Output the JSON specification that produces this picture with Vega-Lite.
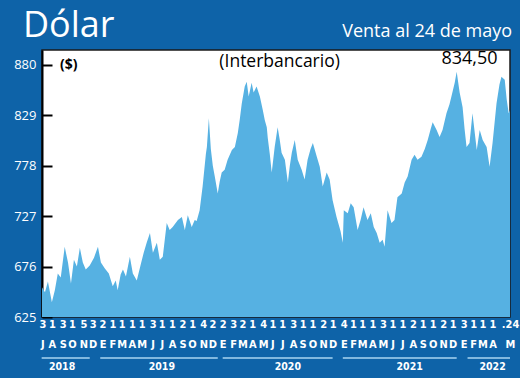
{
  "$schema": "https://vega.github.io/schema/vega-lite/v6.json",
  "width": 468,
  "height": 267,
  "autosize": {"type": "none"},
  "padding": {"left": 42, "top": 50, "right": 10, "bottom": 61},
  "background": "#0e63a8",
  "config": {"view": {"fill": "white", "stroke": "#1a1a1a", "strokeWidth": 1.5}, "axis": {"labelOverlap": false, "labelSeparation": 0}},
  "datasets": {
    "dolar": [
      {"fecha": "2018-07-02", "valor": 655}, {"fecha": "2018-07-11", "valor": 650}, {"fecha": "2018-07-20", "valor": 661},
      {"fecha": "2018-08-01", "valor": 640}, {"fecha": "2018-08-10", "valor": 652}, {"fecha": "2018-08-19", "valor": 669},
      {"fecha": "2018-08-28", "valor": 665}, {"fecha": "2018-09-09", "valor": 696}, {"fecha": "2018-09-19", "valor": 680},
      {"fecha": "2018-09-28", "valor": 659}, {"fecha": "2018-10-07", "valor": 683}, {"fecha": "2018-10-16", "valor": 676},
      {"fecha": "2018-10-25", "valor": 695}, {"fecha": "2018-11-03", "valor": 680}, {"fecha": "2018-11-12", "valor": 673},
      {"fecha": "2018-11-24", "valor": 677}, {"fecha": "2018-12-07", "valor": 685}, {"fecha": "2018-12-19", "valor": 696},
      {"fecha": "2018-12-28", "valor": 680}, {"fecha": "2019-01-09", "valor": 674}, {"fecha": "2019-01-21", "valor": 669},
      {"fecha": "2019-02-02", "valor": 656}, {"fecha": "2019-02-11", "valor": 662}, {"fecha": "2019-02-17", "valor": 652},
      {"fecha": "2019-02-26", "valor": 668}, {"fecha": "2019-03-05", "valor": 673}, {"fecha": "2019-03-14", "valor": 666},
      {"fecha": "2019-03-26", "valor": 686}, {"fecha": "2019-04-04", "valor": 669}, {"fecha": "2019-04-16", "valor": 662},
      {"fecha": "2019-04-28", "valor": 678}, {"fecha": "2019-05-07", "valor": 690}, {"fecha": "2019-05-16", "valor": 700},
      {"fecha": "2019-05-26", "valor": 710}, {"fecha": "2019-06-04", "valor": 690}, {"fecha": "2019-06-16", "valor": 700},
      {"fecha": "2019-06-25", "valor": 683}, {"fecha": "2019-07-04", "valor": 686}, {"fecha": "2019-07-16", "valor": 720},
      {"fecha": "2019-07-25", "valor": 713}, {"fecha": "2019-08-03", "valor": 716}, {"fecha": "2019-08-19", "valor": 723},
      {"fecha": "2019-08-31", "valor": 726}, {"fecha": "2019-09-09", "valor": 713}, {"fecha": "2019-09-18", "valor": 728},
      {"fecha": "2019-09-30", "valor": 716}, {"fecha": "2019-10-09", "valor": 723}, {"fecha": "2019-10-15", "valor": 722},
      {"fecha": "2019-10-24", "valor": 733}, {"fecha": "2019-11-02", "valor": 757}, {"fecha": "2019-11-12", "valor": 790},
      {"fecha": "2019-11-15", "valor": 797}, {"fecha": "2019-11-21", "valor": 826}, {"fecha": "2019-11-27", "valor": 795},
      {"fecha": "2019-12-03", "valor": 778}, {"fecha": "2019-12-09", "valor": 767}, {"fecha": "2019-12-18", "valor": 750},
      {"fecha": "2019-12-24", "valor": 762}, {"fecha": "2019-12-30", "valor": 771}, {"fecha": "2020-01-08", "valor": 774},
      {"fecha": "2020-01-17", "valor": 784}, {"fecha": "2020-01-30", "valor": 794}, {"fecha": "2020-02-08", "valor": 797},
      {"fecha": "2020-02-17", "valor": 811}, {"fecha": "2020-02-23", "valor": 825}, {"fecha": "2020-02-29", "valor": 841},
      {"fecha": "2020-03-09", "valor": 858}, {"fecha": "2020-03-15", "valor": 863}, {"fecha": "2020-03-21", "valor": 848},
      {"fecha": "2020-03-30", "valor": 862}, {"fecha": "2020-04-05", "valor": 852}, {"fecha": "2020-04-14", "valor": 858},
      {"fecha": "2020-04-24", "valor": 848}, {"fecha": "2020-05-03", "valor": 834}, {"fecha": "2020-05-09", "valor": 824},
      {"fecha": "2020-05-15", "valor": 817}, {"fecha": "2020-05-18", "valor": 806}, {"fecha": "2020-05-24", "valor": 790},
      {"fecha": "2020-05-30", "valor": 771}, {"fecha": "2020-06-08", "valor": 797}, {"fecha": "2020-06-17", "valor": 817},
      {"fecha": "2020-06-23", "valor": 805}, {"fecha": "2020-06-29", "valor": 791}, {"fecha": "2020-07-09", "valor": 784},
      {"fecha": "2020-07-18", "valor": 761}, {"fecha": "2020-07-24", "valor": 778}, {"fecha": "2020-07-30", "valor": 791},
      {"fecha": "2020-08-08", "valor": 804}, {"fecha": "2020-08-17", "valor": 784}, {"fecha": "2020-08-29", "valor": 774},
      {"fecha": "2020-09-07", "valor": 764}, {"fecha": "2020-09-16", "valor": 784}, {"fecha": "2020-09-25", "valor": 795},
      {"fecha": "2020-10-02", "valor": 801}, {"fecha": "2020-10-14", "valor": 787}, {"fecha": "2020-10-23", "valor": 777},
      {"fecha": "2020-11-01", "valor": 757}, {"fecha": "2020-11-13", "valor": 771}, {"fecha": "2020-11-22", "valor": 764},
      {"fecha": "2020-12-01", "valor": 743}, {"fecha": "2020-12-13", "valor": 726}, {"fecha": "2020-12-25", "valor": 712},
      {"fecha": "2021-01-01", "valor": 700}, {"fecha": "2021-01-04", "valor": 733}, {"fecha": "2021-01-16", "valor": 730},
      {"fecha": "2021-01-25", "valor": 740}, {"fecha": "2021-02-03", "valor": 736}, {"fecha": "2021-02-15", "valor": 713},
      {"fecha": "2021-02-24", "valor": 723}, {"fecha": "2021-03-05", "valor": 736}, {"fecha": "2021-03-17", "valor": 723},
      {"fecha": "2021-03-27", "valor": 730}, {"fecha": "2021-04-05", "valor": 716}, {"fecha": "2021-04-14", "valor": 710},
      {"fecha": "2021-04-23", "valor": 700}, {"fecha": "2021-05-02", "valor": 703}, {"fecha": "2021-05-08", "valor": 696},
      {"fecha": "2021-05-17", "valor": 733}, {"fecha": "2021-05-29", "valor": 720}, {"fecha": "2021-06-07", "valor": 723},
      {"fecha": "2021-06-16", "valor": 746}, {"fecha": "2021-06-29", "valor": 750}, {"fecha": "2021-07-08", "valor": 761},
      {"fecha": "2021-07-17", "valor": 767}, {"fecha": "2021-07-29", "valor": 784}, {"fecha": "2021-08-07", "valor": 789},
      {"fecha": "2021-08-16", "valor": 784}, {"fecha": "2021-08-28", "valor": 787}, {"fecha": "2021-09-07", "valor": 795},
      {"fecha": "2021-09-16", "valor": 804}, {"fecha": "2021-09-25", "valor": 815}, {"fecha": "2021-10-01", "valor": 822},
      {"fecha": "2021-10-13", "valor": 814}, {"fecha": "2021-10-22", "valor": 807}, {"fecha": "2021-10-31", "valor": 814},
      {"fecha": "2021-11-12", "valor": 831}, {"fecha": "2021-11-21", "valor": 840}, {"fecha": "2021-11-27", "valor": 848},
      {"fecha": "2021-12-07", "valor": 862}, {"fecha": "2021-12-13", "valor": 873}, {"fecha": "2021-12-22", "valor": 852},
      {"fecha": "2021-12-31", "valor": 837}, {"fecha": "2022-01-06", "valor": 815}, {"fecha": "2022-01-12", "valor": 797},
      {"fecha": "2022-01-21", "valor": 801}, {"fecha": "2022-01-30", "valor": 831}, {"fecha": "2022-02-12", "valor": 794},
      {"fecha": "2022-02-21", "valor": 814}, {"fecha": "2022-03-02", "valor": 804}, {"fecha": "2022-03-14", "valor": 797},
      {"fecha": "2022-03-23", "valor": 777}, {"fecha": "2022-04-01", "valor": 801}, {"fecha": "2022-04-13", "valor": 841},
      {"fecha": "2022-04-22", "valor": 860}, {"fecha": "2022-04-28", "valor": 868}, {"fecha": "2022-05-08", "valor": 865},
      {"fecha": "2022-05-14", "valor": 845}, {"fecha": "2022-05-20", "valor": 831}, {"fecha": "2022-05-24", "valor": 834.5}
    ],
    "years": [
      {"year": "2018", "start": "2018-07-01", "end": "2018-11-24", "mid": "2018-09-01"},
      {"year": "2019", "start": "2018-12-26", "end": "2019-12-18", "mid": "2019-07-01"},
      {"year": "2020", "start": "2020-01-02", "end": "2020-12-01", "mid": "2020-07-18"},
      {"year": "2021", "start": "2021-01-01", "end": "2021-12-13", "mid": "2021-07-23"},
      {"year": "2022", "start": "2022-01-15", "end": "2022-05-24", "mid": "2022-04-01"}
    ]
  },
  "layer": [
    {
      "data": {"name": "dolar"},
      "mark": {"type": "area", "color": "#56b1e2", "clip": true},
      "encoding": {
        "x": {
          "field": "fecha", "type": "temporal",
          "scale": {"type": "utc", "domain": [{"year": 2018, "month": 7, "date": 2, "utc": true}, {"year": 2022, "month": 5, "date": 24, "utc": true}]},
          "axis": {
            "title": null, "domain": false, "ticks": false, "grid": false, "tickCount": 100,
            "values": [
              {"year": 2018, "month": 7, "date": 3, "utc": true}, {"year": 2018, "month": 8, "date": 1, "utc": true},
              {"year": 2018, "month": 9, "date": 3, "utc": true}, {"year": 2018, "month": 10, "date": 1, "utc": true},
              {"year": 2018, "month": 11, "date": 5, "utc": true}, {"year": 2018, "month": 12, "date": 3, "utc": true},
              {"year": 2019, "month": 1, "date": 2, "utc": true}, {"year": 2019, "month": 2, "date": 1, "utc": true},
              {"year": 2019, "month": 3, "date": 1, "utc": true}, {"year": 2019, "month": 4, "date": 1, "utc": true},
              {"year": 2019, "month": 5, "date": 1, "utc": true}, {"year": 2019, "month": 6, "date": 3, "utc": true},
              {"year": 2019, "month": 7, "date": 1, "utc": true}, {"year": 2019, "month": 8, "date": 1, "utc": true},
              {"year": 2019, "month": 9, "date": 2, "utc": true}, {"year": 2019, "month": 10, "date": 1, "utc": true},
              {"year": 2019, "month": 11, "date": 4, "utc": true}, {"year": 2019, "month": 12, "date": 2, "utc": true},
              {"year": 2020, "month": 1, "date": 2, "utc": true}, {"year": 2020, "month": 2, "date": 3, "utc": true},
              {"year": 2020, "month": 3, "date": 2, "utc": true}, {"year": 2020, "month": 4, "date": 1, "utc": true},
              {"year": 2020, "month": 5, "date": 4, "utc": true}, {"year": 2020, "month": 6, "date": 1, "utc": true},
              {"year": 2020, "month": 7, "date": 1, "utc": true}, {"year": 2020, "month": 8, "date": 3, "utc": true},
              {"year": 2020, "month": 9, "date": 1, "utc": true}, {"year": 2020, "month": 10, "date": 1, "utc": true},
              {"year": 2020, "month": 11, "date": 2, "utc": true}, {"year": 2020, "month": 12, "date": 1, "utc": true},
              {"year": 2021, "month": 1, "date": 4, "utc": true}, {"year": 2021, "month": 2, "date": 1, "utc": true},
              {"year": 2021, "month": 3, "date": 1, "utc": true}, {"year": 2021, "month": 4, "date": 1, "utc": true},
              {"year": 2021, "month": 5, "date": 3, "utc": true}, {"year": 2021, "month": 6, "date": 1, "utc": true},
              {"year": 2021, "month": 7, "date": 1, "utc": true}, {"year": 2021, "month": 8, "date": 2, "utc": true},
              {"year": 2021, "month": 9, "date": 1, "utc": true}, {"year": 2021, "month": 10, "date": 1, "utc": true},
              {"year": 2021, "month": 11, "date": 2, "utc": true}, {"year": 2021, "month": 12, "date": 1, "utc": true},
              {"year": 2022, "month": 1, "date": 3, "utc": true}, {"year": 2022, "month": 2, "date": 1, "utc": true},
              {"year": 2022, "month": 3, "date": 1, "utc": true}, {"year": 2022, "month": 4, "date": 1, "utc": true},
              {"year": 2022, "month": 5, "date": 24, "utc": true}
            ],
            "labelExpr": "utcyear(datum.value) == 2022 && utcmonth(datum.value) == 4 ? ['.24', 'M'] : [toString(utcdate(datum.value)), substring('EFMAMJJASOND', utcmonth(datum.value), utcmonth(datum.value) + 1)]",
            "labelColor": "white", "labelFont": "DejaVu Sans Condensed, Roboto, sans-serif", "labelFontSize": 11, "labelFontWeight": "bold",
            "labelPadding": 1, "labelLineHeight": 20, "labelOverlap": false, "labelFlush": false, "labelBound": false,
            "labelAngle": 0, "labelAlign": "center", "labelBaseline": "top"
          }
        },
        "y": {
          "field": "valor", "type": "quantitative",
          "scale": {"domain": [625, 895], "nice": false, "zero": false},
          "axis": {
            "title": null, "grid": false, "values": [625, 676, 727, 778, 829, 880], "tickCount": 20,
            "labelColor": "white", "labelFont": "Open Sans", "labelFontSize": 13,
            "domainColor": "black", "domainWidth": 2, "tickColor": "black", "tickWidth": 2, "tickSize": -10,
            "labelPadding": 16, "labelFlush": false, "labelOverlap": false
          }
        }
      }
    },
    {
      "data": {"name": "years"},
      "mark": {"type": "rule", "color": "#a9d5f2", "strokeWidth": 1.5},
      "encoding": {
        "x": {"field": "start", "type": "temporal", "axis": {"labelOverlap": false}},
        "x2": {"field": "end"},
        "y": {"datum": 583.5, "type": "quantitative"}
      }
    },
    {
      "data": {"name": "years"},
      "mark": {"type": "text", "color": "white", "font": "DejaVu Sans Condensed, Roboto, sans-serif", "fontWeight": "bold", "fontSize": 10.5, "baseline": "middle", "align": "center"},
      "encoding": {
        "x": {"field": "mid", "type": "temporal", "axis": {"labelOverlap": false}},
        "y": {"datum": 574.4, "type": "quantitative"},
        "text": {"field": "year"}
      }
    },
    {
      "data": {"values": [{}]},
      "mark": {"type": "text", "text": "Dólar", "color": "white", "font": "Open Sans", "fontSize": 36, "align": "left", "baseline": "alphabetic", "dx": -19},
      "encoding": {
        "x": {"datum": {"year": 2018, "month": 7, "date": 2, "utc": true}, "type": "temporal"},
        "y": {"datum": 908, "type": "quantitative"}
      }
    },
    {
      "data": {"values": [{}]},
      "mark": {"type": "text", "text": "Venta al 24 de mayo", "color": "white", "font": "Open Sans", "fontSize": 18, "align": "right", "baseline": "alphabetic", "dx": 2},
      "encoding": {
        "x": {"datum": {"year": 2022, "month": 5, "date": 24, "utc": true}, "type": "temporal"},
        "y": {"datum": 908, "type": "quantitative"}
      }
    },
    {
      "data": {"values": [{}]},
      "mark": {"type": "text", "text": "($)", "color": "black", "font": "Open Sans", "fontWeight": "bold", "fontSize": 14, "align": "left", "baseline": "middle", "dx": 18},
      "encoding": {
        "x": {"datum": {"year": 2018, "month": 7, "date": 2, "utc": true}, "type": "temporal"},
        "y": {"datum": 880, "type": "quantitative"}
      }
    },
    {
      "data": {"values": [{}]},
      "mark": {"type": "text", "text": "(Interbancario)", "color": "black", "font": "Open Sans", "fontSize": 17.5, "align": "center", "baseline": "middle"},
      "encoding": {
        "x": {"datum": {"year": 2020, "month": 6, "date": 23, "utc": true}, "type": "temporal"},
        "y": {"datum": 883, "type": "quantitative"}
      }
    },
    {
      "data": {"values": [{}]},
      "mark": {"type": "text", "text": "834,50", "color": "black", "font": "Open Sans", "fontSize": 18, "align": "center", "baseline": "middle"},
      "encoding": {
        "x": {"datum": {"year": 2022, "month": 1, "date": 21, "utc": true}, "type": "temporal"},
        "y": {"datum": 886, "type": "quantitative"}
      }
    }
  ]
}
